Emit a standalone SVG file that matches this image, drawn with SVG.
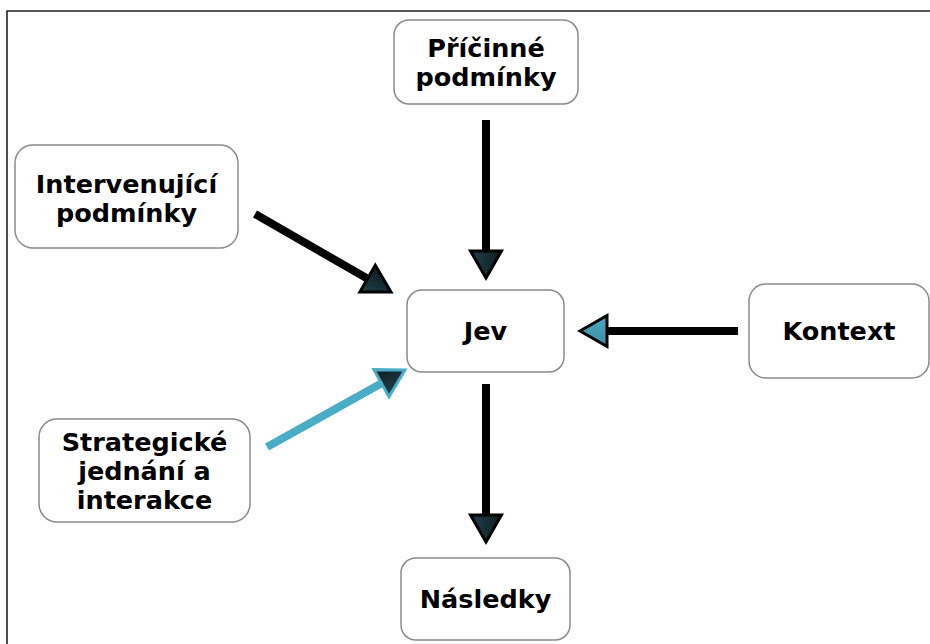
<svg xmlns="http://www.w3.org/2000/svg" xmlns:xlink="http://www.w3.org/1999/xlink" width="930" height="644" viewBox="0 0 930 644">
<style>
.box{fill:#fff;stroke:#8a8a8a;stroke-width:1.5}
.lbl{font-family:"DejaVu Sans","Verdana",sans-serif;font-weight:bold;font-size:25.5px;fill:#000;text-anchor:middle}
.ln{stroke:#000;stroke-width:8;fill:none}
.lnc{stroke:#4bacc6;stroke-width:8;fill:none}
.hd{fill:url(#dk);stroke:#000;stroke-width:3;stroke-linejoin:miter}
.hdc{fill:url(#cy);stroke:#000;stroke-width:3}
.hdd{fill:url(#dk);stroke:#4bacc6;stroke-width:3}
</style>
<defs>
<linearGradient id="dk" x1="0" y1="0" x2="0" y2="1"><stop offset="0" stop-color="#0e1a1f"/><stop offset="1" stop-color="#21414c"/></linearGradient>
<linearGradient id="cy" x1="0" y1="0" x2="0" y2="1"><stop offset="0" stop-color="#3a90a6"/><stop offset="1" stop-color="#4aa8c0"/></linearGradient>
<polygon id="ah" points="0,0 -27,-15.5 -27,15.5"/>
</defs>
<rect width="930" height="644" fill="#fff"/>
<path d="M7,644 V11 H930" fill="none" stroke="#222" stroke-width="1.6"/>
<g id="connectors">
<line class="ln" x1="486" y1="120" x2="486" y2="255"/>
<use xlink:href="#ah" class="hd" transform="translate(486,278) rotate(90)"/>
<line class="ln" x1="486" y1="384" x2="486" y2="518"/>
<use xlink:href="#ah" class="hd" transform="translate(486,542) rotate(90)"/>
<line class="ln" x1="738" y1="331" x2="604" y2="331"/>
<use xlink:href="#ah" class="hdc" transform="translate(580,331) rotate(180)"/>
<line class="ln" x1="255" y1="214" x2="369" y2="279.5"/>
<use xlink:href="#ah" class="hd" transform="translate(391,292) rotate(29.8)"/>
<line class="lnc" x1="267" y1="447" x2="383" y2="382.5"/>
<use xlink:href="#ah" class="hdd" transform="translate(405,370) rotate(-29.2)"/>
</g>
<g id="pricinne">
<rect class="box" x="394" y="20" width="184" height="84" rx="15"/>
<text class="lbl" x="486" y="57">Příčinné</text>
<text class="lbl" x="486" y="86">podmínky</text>
</g>
<g id="intervenujici">
<rect class="box" x="15" y="145" width="223" height="103" rx="18"/>
<text class="lbl" x="126.5" y="193">Intervenující</text>
<text class="lbl" x="126.5" y="222">podmínky</text>
</g>
<g id="jev">
<rect class="box" x="407" y="290" width="157" height="82" rx="15"/>
<text class="lbl" x="485.5" y="340">Jev</text>
</g>
<g id="kontext">
<rect class="box" x="749" y="284" width="180" height="94" rx="17"/>
<text class="lbl" x="839" y="340">Kontext</text>
</g>
<g id="strategicke">
<rect class="box" x="39" y="419" width="211" height="103" rx="18"/>
<text class="lbl" x="144.5" y="451">Strategické</text>
<text class="lbl" x="144.5" y="480">jednání a</text>
<text class="lbl" x="144.5" y="509">interakce</text>
</g>
<g id="nasledky">
<rect class="box" x="401" y="558" width="169" height="82" rx="15"/>
<text class="lbl" x="485.5" y="608">Následky</text>
</g>
</svg>
